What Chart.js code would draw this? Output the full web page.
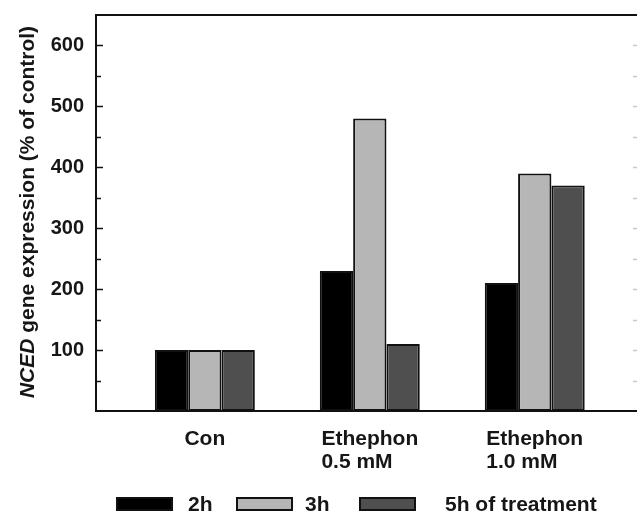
<!DOCTYPE html>
<html>
<head>
<meta charset="utf-8">
<script src="https://cdn.jsdelivr.net/npm/chart.js@4"></script>
<style>
  body { margin: 0; background: #fff; }
</style>
</head>
<body>
<canvas id="grafico" width="637" height="513"></canvas>
<script>
// datos
const grupos = [['Con'], ['Ethephon', '0.5 mM'], ['Ethephon', '1.0 mM']];
const posiciones = [1, 2, 3];
const serie2h = [100, 230, 210];
const serie3h = [100, 480, 390];
const serie5h = [100, 110, 370];
const nombresSeries = ['2h', '3h', '5h of treatment'];
const colores = ['#000000', '#b6b6b6', '#4f4f4f'];
const ticksY = [100, 200, 300, 400, 500, 600];

const fuente = '"Liberation Sans", Arial, sans-serif';
const tinta = '#161616';

function puntos(valores) {
    return valores.map((v, i) => ({ x: posiciones[i], y: v }));
}

const decoracion = {
    id: 'decoracion',
    afterDraw(chart) {
        const ctx = chart.ctx;
        const area = chart.chartArea;
        const x = chart.scales.x;
        const y = chart.scales.y;
        ctx.save();

        // linea superior del marco
        ctx.strokeStyle = '#111';
        ctx.lineWidth = 2;
        ctx.beginPath();
        ctx.moveTo(area.left - 1, area.top);
        ctx.lineTo(area.right, area.top);
        ctx.stroke();

        // marcas hacia adentro cada 50
        for (let v = 50; v <= 600; v += 50) {
            const py = Math.round(y.getPixelForValue(v)) + 0.5;
            const largo = v % 100 === 0 ? 7 : 5;
            ctx.lineWidth = 1.5;
            ctx.strokeStyle = '#111';
            ctx.beginPath();
            ctx.moveTo(area.left, py);
            ctx.lineTo(area.left + largo, py);
            ctx.stroke();
            ctx.strokeStyle = '#c8c8c8';
            ctx.beginPath();
            ctx.moveTo(area.right - 4, py);
            ctx.lineTo(area.right, py);
            ctx.stroke();
        }

        // etiquetas de categorias
        ctx.fillStyle = tinta;
        ctx.font = 'bold 21px ' + fuente;
        ctx.textBaseline = 'alphabetic';
        ctx.textAlign = 'left';
        grupos.forEach((lineas, i) => {
            const cx = x.getPixelForValue(posiciones[i]);
            const x0 = cx - ctx.measureText(lineas[0]).width / 2;
            lineas.forEach((t, j) => ctx.fillText(t, x0, 445 + j * 23));
        });

        // titulo del eje y con NCED en cursiva
        ctx.translate(28, 212);
        ctx.rotate(-Math.PI / 2);
        ctx.textBaseline = 'middle';
        const fIt = 'italic bold 21px ' + fuente;
        const fNo = 'bold 21px ' + fuente;
        ctx.font = fIt;
        const w1 = ctx.measureText('NCED').width;
        ctx.font = fNo;
        const resto = ' gene expression (% of control)';
        const w2 = ctx.measureText(resto).width;
        const inicio = -(w1 + w2) / 2;
        ctx.font = fIt;
        ctx.fillText('NCED', inicio, 0);
        ctx.font = fNo;
        ctx.fillText(resto, inicio + w1, 0);
        ctx.setTransform(1, 0, 0, 1, 0, 0);

        // leyenda
        const cajas = [117, 237, 360];
        const textos = [188, 305, 445];
        chart.data.datasets.forEach((ds, i) => {
            ctx.fillStyle = ds.backgroundColor;
            ctx.fillRect(cajas[i], 498, 55, 12);
            ctx.strokeStyle = '#111';
            ctx.lineWidth = 2;
            ctx.strokeRect(cajas[i], 498, 55, 12);
            ctx.fillStyle = tinta;
            ctx.font = 'bold 21px ' + fuente;
            ctx.textBaseline = 'middle';
            ctx.fillText(ds.label, textos[i], 505);
        });
        ctx.restore();
    }
};

const ctx = document.getElementById('grafico').getContext('2d');
window.grafico = new Chart(ctx, {
    type: 'bar',
    data: {
        datasets: [serie2h, serie3h, serie5h].map((serie, i) => ({
            label: nombresSeries[i],
            data: puntos(serie),
            backgroundColor: colores[i],
            borderColor: '#111',
            borderWidth: 2,
            borderSkipped: false,
            barPercentage: 1,
            categoryPercentage: 0.606
        }))
    },
    options: {
        responsive: false,
        animation: false,
        devicePixelRatio: 1,
        layout: { padding: { top: 15, right: 0, left: 0, bottom: 0 } },
        plugins: {
            legend: { display: false },
            tooltip: { enabled: false }
        },
        scales: {
            x: {
                type: 'linear',
                min: 0.34,
                max: 3.62,
                offset: false,
                ticks: { display: false },
                grid: { display: false, drawTicks: false },
                border: { display: true, width: 2, color: '#111' },
                afterBuildTicks: s => { s.ticks = posiciones.map(p => ({ value: p })); },
                afterFit: s => {
                    s.height = 102;
                    s.paddingLeft = 0; s.paddingRight = 0;
                }
            },
            y: {
                min: 0,
                max: 650,
                ticks: {
                    stepSize: 50,
                    padding: 12,
                    color: tinta,
                    font: { family: fuente, size: 20, weight: 'bold' },
                    callback: v => ticksY.includes(v) ? String(v) : ''
                },
                grid: { display: false, drawTicks: false },
                border: { display: true, width: 2, color: '#111' },
                afterFit: s => {
                    s.width = 96;
                    s.paddingTop = 0; s.paddingBottom = 0;
                }
            }
        }
    },
    plugins: [decoracion]
});
</script>
</body>
</html>
